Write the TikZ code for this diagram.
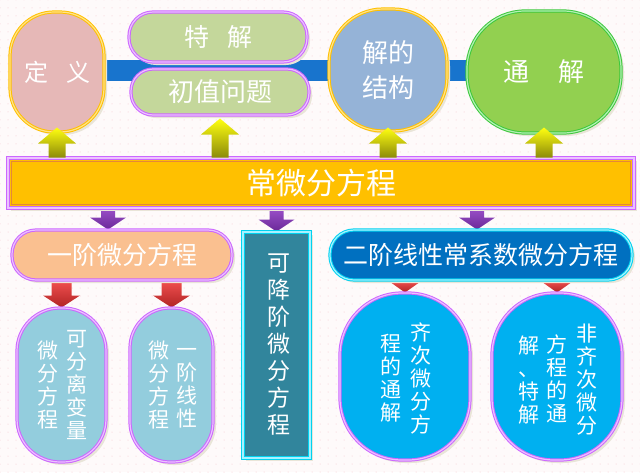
\documentclass[tikz,border=0pt]{standalone}
\usepackage{fontspec}
\newfontfamily\cjk{Noto Sans CJK SC}
\usetikzlibrary{calc,shadows,patterns.meta}
\definecolor{bgc}{HTML}{FEFAFA}
\definecolor{dotc}{HTML}{F5C6CC}
\definecolor{pinkf}{HTML}{E6B8B7}
\definecolor{goldd}{HTML}{FFC000}
\definecolor{goldl}{HTML}{FFE38A}
\definecolor{greenf}{HTML}{C4D79B}
\definecolor{purd}{HTML}{CC66FF}
\definecolor{purl}{HTML}{EBC2FF}
\definecolor{barblue}{HTML}{1874CD}
\definecolor{steelf}{HTML}{95B3D7}
\definecolor{limef}{HTML}{92D050}
\definecolor{greend}{HTML}{3CC83C}
\definecolor{greenl}{HTML}{B4F0B4}
\definecolor{mainf}{HTML}{FFC000}
\definecolor{mainin}{HTML}{E5863A}
\definecolor{orangef}{HTML}{FAC090}
\definecolor{tealf}{HTML}{31859C}
\definecolor{cyand}{HTML}{00D2F0}
\definecolor{cyanl}{HTML}{A8F2FF}
\definecolor{bluef}{HTML}{0070C0}
\definecolor{lblue}{HTML}{93CDDD}
\definecolor{bblue}{HTML}{00B0F0}
\definecolor{shadc}{HTML}{E9E5D8}
\definecolor{yelt}{HTML}{FFFF10}
\definecolor{yelb}{HTML}{8C8A0A}
\definecolor{purt}{HTML}{9A50C8}
\definecolor{purb}{HTML}{6A2898}
\definecolor{redt}{HTML}{F25050}
\definecolor{redb}{HTML}{B02424}
\pgfdeclarelayer{bg}
\pgfdeclarelayer{back}
\pgfsetlayers{bg,back,main}
\newcommand\fatarr[6]{% style, base, tip, half shaft, half head, head length (signed)
  \path[#1] let \p1=(#2), \p2=(#3) in
  (\x1-#4,\y1) -- (\x1-#4,\y2-#6) -- (\x1-#5,\y2-#6) -- (\x1,\y2) --
  (\x1+#5,\y2-#6) -- (\x1+#4,\y2-#6) -- (\x1+#4,\y1) -- cycle;}
\tikzset{
  box/.style={inner sep=0pt, text=white, font=\cjk,
    drop shadow={shadow xshift=3pt, shadow yshift=-3pt, fill=shadc, opacity=1},
    line width=1pt, double distance=1.2pt},
  goldbox/.style={box, draw=goldd, double=goldl},
  purbox/.style={box, draw=purd, double=purl},
  greenbox/.style={box, draw=greend, double=greenl},
  cyanbox/.style={box, draw=cyand, double=cyanl},
  vcol/.style={font=\cjk\fontsize{21}{23}\selectfont, text=white, align=center, inner sep=0pt},
  yelarr/.style={top color=yelt, bottom color=yelb},
  purarr/.style={top color=purt, bottom color=purb},
  redarr/.style={top color=redt, bottom color=redb},
  bluebar/.style={line width=21pt, draw=barblue}
}
\begin{document}
\begin{tikzpicture}[x=1pt,y=-1pt]
\useasboundingbox (0,0) rectangle (640,472);
\begin{pgfonlayer}{bg}
  \fill[bgc] (0,0) rectangle (640,472);
  \fill[pattern={Dots[radius=0.5pt,distance=8pt]}, pattern color=dotc] (0,0) rectangle (640,472);
\end{pgfonlayer}

% top row
\node[goldbox, fill=pinkf, minimum width=94pt, minimum height=120pt, rounded corners=44pt,
  font=\cjk\fontsize{24}{28}\selectfont] (dy) at (57,72) {定\hspace{18pt}义};
\node[purbox, fill=greenf, minimum width=178pt, minimum height=50pt, rounded corners=24pt,
  font=\cjk\fontsize{25}{28}\selectfont] (tj) at (218,37) {特\hspace{18pt}解};
\node[purbox, fill=greenf, minimum width=178pt, minimum height=46pt, rounded corners=22pt,
  font=\cjk\fontsize{26}{28}\selectfont] (cz) at (220,92) {初值问题};
\node[goldbox, fill=steelf, minimum width=118pt, minimum height=122pt, rounded corners=54pt,
  align=center, font=\cjk\fontsize{26}{35}\selectfont] (jg) at (388,70) {解的\\结构};
\node[greenbox, fill=limef, minimum width=154pt, minimum height=122pt, rounded corners=58pt,
  font=\cjk\fontsize{26}{28}\selectfont] (tjj) at (544,72) {通\hspace{30pt}解};

% main bar
\node[purbox, fill=mainf, minimum width=626pt, minimum height=50pt,
  font=\cjk\fontsize{30}{34}\selectfont] (main) at (321,183) {常微分方程};
\draw[mainin, line width=0.8pt] ([shift={(4pt,-4pt)}]main.north west) rectangle ([shift={(-4pt,4pt)}]main.south east);

% second row
\node[purbox, fill=orangef, minimum width=220pt, minimum height=50pt, rounded corners=24pt,
  font=\cjk\fontsize{25}{28}\selectfont] (yj) at (122,255) {一阶微分方程};
\node[cyanbox, fill=tealf, minimum width=67pt, minimum height=226pt] (kj) at (276.5,345) {};
\node[vcol, font=\cjk\fontsize{23}{27}\selectfont] (kjt) at ([xshift=2pt]kj.center) {可\\降\\阶\\微\\分\\方\\程};
\node[cyanbox, fill=bluef, minimum width=302pt, minimum height=50pt, rounded corners=24pt,
  font=\cjk\fontsize{25}{28}\selectfont] (ej) at (481,255) {二阶线性常系数微分方程};

% bottom row
\node[purbox, fill=lblue, minimum width=89pt, minimum height=154pt, rounded corners=43pt] (b1) at (61.5,385) {};
\node[vcol] (b1a) at ([xshift=15pt]b1.center) {可\\分\\离\\变\\量};
\node[vcol] (b1b) at ([xshift=-14pt]b1.center) {微\\分\\方\\程};
\node[purbox, fill=lblue, minimum width=83pt, minimum height=154pt, rounded corners=40pt] (b2) at (171.5,385) {};
\node[vcol] (b2a) at ([xshift=15pt,yshift=-3pt]b2.center) {一\\阶\\线\\性};
\node[vcol] (b2b) at ([xshift=-13pt]b2.center) {微\\分\\方\\程};
\node[purbox, fill=bblue, minimum width=130pt, minimum height=167pt, rounded corners=62pt] (b3) at (405,376.5) {};
\node[vcol] (b3a) at ([xshift=16pt,yshift=-2pt]b3.center) {齐\\次\\微\\分\\方};
\node[vcol] (b3b) at ([xshift=-14pt,yshift=-2pt]b3.center) {程\\的\\通\\解};
\node[purbox, fill=bblue, minimum width=130pt, minimum height=167pt, rounded corners=62pt] (b4) at (557,376.5) {};
\node[vcol] (b4a) at ([xshift=30pt,yshift=-3pt]b4.center) {非\\齐\\次\\微\\分};
\node[vcol] (b4b) at ([xshift=0pt,yshift=-2pt]b4.center) {方\\程\\的\\通};
\node[vcol] (b4c) at ([xshift=-28pt,yshift=-4pt]b4.center) {解\\、\\特\\解};

% connectors behind
\begin{pgfonlayer}{back}
  \draw[bluebar] ([yshift=2pt]dy.center) -- ([yshift=2pt]tjj.center);
  \coordinate (ya) at ([xshift=-14pt]yj.north);
  \coordinate (ea) at ([xshift=-4pt]ej.north);
  \fatarr{purarr}{ya |- main.south}{ya}{7pt}{18pt}{-12pt}
  \fatarr{purarr}{kj.north |- main.south}{kj.north}{7pt}{18pt}{-12pt}
  \fatarr{purarr}{ea |- main.south}{ea}{7pt}{18pt}{-12pt}
  \fatarr{redarr}{b1.north |- yj.south}{b1.north}{10pt}{18.5pt}{-12pt}
  \fatarr{redarr}{b2.north |- yj.south}{b2.north}{10pt}{18.5pt}{-12pt}
  \fatarr{redarr}{b3.north |- ej.south}{b3.north}{10pt}{17pt}{-12pt}
  \fatarr{redarr}{b4.north |- ej.south}{b4.north}{10pt}{17pt}{-12pt}
\end{pgfonlayer}

% yellow arrows up
\fatarr{yelarr}{dy.south |- main.north}{[yshift=5pt]dy.south}{8.5pt}{19pt}{16pt}
\fatarr{yelarr}{cz.south |- main.north}{[yshift=-3pt]cz.south}{8.5pt}{19pt}{16pt}
\fatarr{yelarr}{jg.south |- main.north}{[yshift=4pt]jg.south}{8.5pt}{19pt}{16pt}
\fatarr{yelarr}{tjj.south |- main.north}{[yshift=6pt]tjj.south}{8.5pt}{19pt}{16pt}
\end{tikzpicture}
\end{document}
